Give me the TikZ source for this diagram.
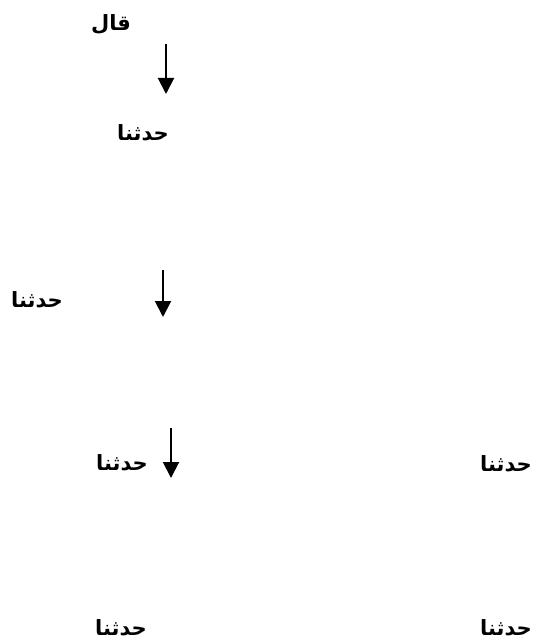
\documentclass[tikz,border=0pt]{standalone}
\usepackage{fontspec}
\usetikzlibrary{arrows.meta}
\TeXXeTstate=1
\newfontfamily\arabicfont[Script=Arabic]{DejaVu Sans}
\tikzset{
  lbl/.style={inner sep=0pt, font=\arabicfont\bfseries\fontsize{21}{23}\selectfont},
  flow/.style={line width=2pt, -{Triangle[length=16pt,width=16pt]}}
}
\begin{document}
\begin{tikzpicture}[x=1pt,y=-1pt]
\useasboundingbox (0,0) rectangle (533,644);
\node[lbl] (qal) at (111,24) {\beginR قال\endR};
\node[lbl] (h1) at (143,133) {\beginR حدثنا\endR};
\node[lbl] (h2) at (37,300) {\beginR حدثنا\endR};
\node[lbl] (h3) at (122,463) {\beginR حدثنا\endR};
\node[lbl] (h4) at (506,464) {\beginR حدثنا\endR};
\node[lbl] (h5) at (121,628) {\beginR حدثنا\endR};
\node[lbl] (h6) at (506,628) {\beginR حدثنا\endR};
\coordinate (a1s) at (166,44);
\coordinate (a1e) at (166,94);
\coordinate (a2s) at (163,270);
\coordinate (a2e) at (163,317);
\coordinate (a3s) at (171,428);
\coordinate (a3e) at (171,478);
\draw[flow] (a1s) -- (a1e);
\draw[flow] (a2s) -- (a2e);
\draw[flow] (a3s) -- (a3e);
\end{tikzpicture}
\end{document}
